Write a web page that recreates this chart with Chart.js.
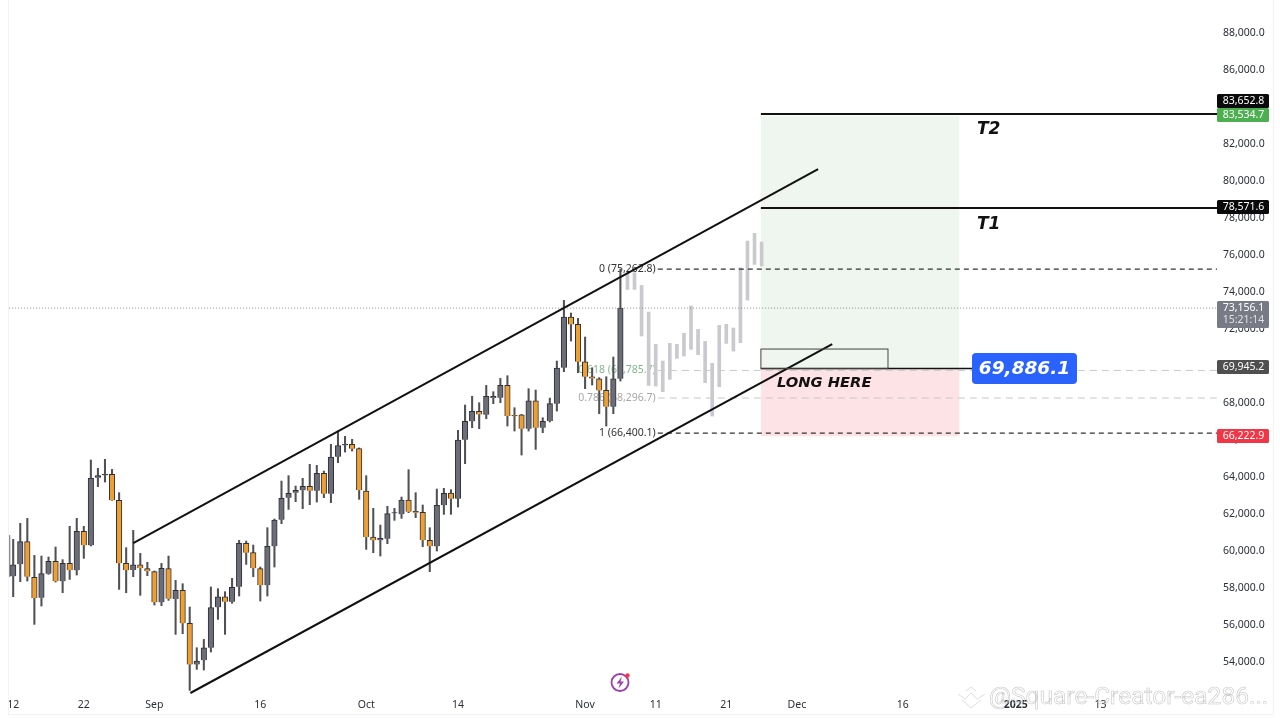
<!DOCTYPE html>
<html>
<head>
<meta charset="utf-8">
<title>BTC long setup</title>
<script src="https://cdn.jsdelivr.net/npm/chart.js@4"></script>
<style>
	html, body { margin: 0; padding: 0; background: #fff; }
	canvas { display: block; }
</style>
</head>
<body>
<canvas id="chart" width="1280" height="718"></canvas>
<script>
// Daily candles, day 0 = 12 Aug, index in the arrays = day
const opens = [58656,59304,60530,58602,57502,58800,59467,58385,59358,58980,61088,60332,63990,64116,64170,62764,59358,58998,59286,59070,58908,57250,59070,57430,57899,56115,53898,54115,54799,56980,57556,57286,58097,60439,59935,59070,58169,60277,61719,62908,63178,63305,63521,63287,64224,63124,65125,65737,65791,65557,63269,60782,60602,60692,62061,62007,62782,62169,62115,60602,60277,62494,63160,62854,66044,67034,67574,67394,68313,68313,68980,67358,67394,66637,68151,66691,67052,67989,69935,72674,72277,70259,69448,69340,68709,67826,69340];
const closes = [59286,60530,58638,57484,58800,59467,58385,59358,58980,61088,60332,63972,64098,64170,62764,59358,58980,59286,59088,58926,57250,59088,57448,57899,56115,53898,54079,54799,56962,57556,57286,58061,60440,59935,59088,58169,60277,61701,62872,63142,63305,63521,63287,64224,63124,65107,65719,65791,65557,63305,60782,60602,60710,62043,62097,62782,62151,62097,60602,60277,62494,63142,62854,66026,67035,67574,67412,68385,68385,68980,67322,67304,66637,68151,66691,67034,67989,69917,72674,72277,70259,69448,69358,68709,67826,69340,73156];
const highs = [60656,61521,61791,59791,59755,59701,60241,59557,61359,61791,61359,64945,64494,64981,64440,63179,60205,61142,59899,59413,58944,59358,59755,58439,58259,56998,54799,55250,58079,57989,57827,58548,60602,60566,60349,59160,61286,61755,63809,64098,63539,63953,64710,64656,64350,65791,66512,66224,66062,65600,64098,62332,61431,62440,62332,62944,64422,63178,62512,61286,63377,63413,63341,66548,67918,68385,68043,68980,68637,69358,69502,67772,67412,68800,68727,67232,68295,70295,73575,72890,72602,71593,69935,69394,69448,70511,75262];
const lows = [57556,58367,58403,56061,57052,58764,58349,57773,58493,58728,59629,60300,63503,63755,62764,57953,57773,58638,57629,58692,57106,57070,57358,55520,55556,52493,53628,53592,54565,56331,55520,57200,57592,59304,58637,57322,57592,59160,61503,62277,62692,62314,62530,62674,62908,62638,64800,65377,65431,62818,60115,59935,59755,60421,61683,61791,62097,61827,60259,58908,60025,62007,62007,62404,64746,66691,66637,67178,67989,68043,66781,66511,65214,66511,65520,66421,67000,67592,69719,71376,69664,68800,68998,67448,66781,67448,69214];

// the cut off candle at the left edge, only its wick is visible
const edgeDay = -0.55;
const edgeHigh = 60870;
const edgeLow = 58640;

// Greyed out candles after the last close, day 87 onwards
const ghostHighs = [75070,75070,74385,72944,71196,70295,71250,71196,71791,73268,72007,71358,70169,72223,72277,72079,75340,76782,77197,76728];
const ghostLows = [74169,74169,71646,68979,68943,68637,69304,70439,70565,70926,70637,69124,67322,68907,71250,70835,71286,73593,75521,75431];

// Axes
const yTickValues = [90000,88000,86000,84000,82000,80000,78000,76000,74000,72000,70000,68000,66000,64000,62000,60000,58000,56000,54000];
const xTickDays = [0,10,20,35,50,63,81,91,101,111,126,142,154];
const xTickLabels = ['12','22','Sep','16','Oct','14','Nov','11','21','Dec','16','2025','13'];

// Drawings, as [day, price]
const upperChannel = [[17,60459],[114,80674]];
const lowerChannel = [[25.1,52351],[116,71215]];

// Position tool and fib levels
const entryPrice = 69886.1;
const stopPrice = 66222.9;
const targetPrice = 83534.7;
const t2Price = 83652.8;
const t1Price = 78571.6;
const lastPrice = 73156.1;
const fibLevels = [75262.8,69785.7,68296.7,66400.1];
const fibLabels = ['0 (75,262.8)','0.618 (69,785.7)','0.786 (68,296.7)','1 (66,400.1)'];
const zoneDays = [105.9,134];
const boxDays = [105.9,123.9];
const boxTop = 70944;
const fibStartDay = 91.3;
const priceAxisDay = 170.5;

const FONT = '"Noto Sans", sans-serif';
const UP = '#6b6e78';
const DOWN = '#ee9f33';
const WICK = '#505055';

function toPoints(pairs) {
	return pairs.map(([x, y]) => ({ x, y }));
}

function hLine(price, fromDay, color, width, dash) {
	return {
		type: 'line',
		data: [{ x: fromDay, y: price }, { x: priceAxisDay, y: price }],
		borderColor: color,
		borderWidth: width,
		borderDash: dash || [],
		pointRadius: 0,
		order: 1,
	};
}

function candleBars(data, thickness, color, order, border) {
	return {
		type: 'bar',
		data,
		grouped: false,
		barThickness: thickness,
		backgroundColor: color,
		borderColor: border || color,
		borderWidth: border ? 1 : 0,
		order,
	};
}

// rects and text that the library has no mark for
const overlayPlugin = {
	id: 'overlay',
	beforeDatasetsDraw(chart) {
		const { ctx, scales: { x, y } } = chart;
		const rect = (d0, d1, p0, p1) => [x.getPixelForValue(d0), y.getPixelForValue(p0), x.getPixelForValue(d1) - x.getPixelForValue(d0), y.getPixelForValue(p1) - y.getPixelForValue(p0)];

		ctx.save();
		ctx.fillStyle = '#eef6ef';
		ctx.fillRect(...rect(zoneDays[0], zoneDays[1], targetPrice, entryPrice));
		ctx.fillStyle = '#fde3e5';
		ctx.fillRect(...rect(zoneDays[0], zoneDays[1], entryPrice, stopPrice));

		ctx.font = '10.5px ' + FONT;
		ctx.textAlign = 'right';
		ctx.textBaseline = 'middle';
		const fibColors = ['#333', '#7fbb8c', '#a8a8a8', '#333'];
		fibLevels.forEach((level, i) => {
			ctx.fillStyle = fibColors[i];
			ctx.fillText(fibLabels[i], x.getPixelForValue(91), y.getPixelForValue(level));
		});
		ctx.restore();
	},
	afterDatasetsDraw(chart) {
		const { ctx, scales: { x, y } } = chart;
		ctx.save();

		// entry box
		const bx = x.getPixelForValue(boxDays[0]);
		const by = y.getPixelForValue(boxTop);
		ctx.strokeStyle = '#444';
		ctx.lineWidth = 1;
		ctx.strokeRect(bx, by, x.getPixelForValue(boxDays[1]) - bx, y.getPixelForValue(entryPrice) - by);

		// drawing labels
		ctx.fillStyle = '#111';
		ctx.textAlign = 'left';
		ctx.textBaseline = 'middle';
		ctx.font = 'italic bold 17px "DejaVu Sans", sans-serif';
		ctx.fillText('T2', 977, 130);
		ctx.fillText('T1', 977, 225);
		ctx.font = 'italic bold 14.7px "DejaVu Sans", sans-serif';
		ctx.fillText('LONG HERE', 777, 383);

		// blue entry callout
		ctx.fillStyle = '#2962ff';
		ctx.beginPath();
		ctx.roundRect(972, 353, 105, 31, 4);
		ctx.fill();
		ctx.fillStyle = '#fff';
		ctx.font = 'italic bold 18.5px "DejaVu Sans", sans-serif';
		ctx.textAlign = 'center';
		ctx.fillText('69,886.1', 1024.5, 369);

		// price tags on the axis
		const tags = [
			{ text: '83,652.8', color: '#0a0a0a', top: 94, h: 14 },
			{ text: '83,534.7', color: '#4caf50', top: 108, h: 14 },
			{ text: '78,571.6', color: '#0a0a0a', top: 200, h: 14 },
			{ text: '69,945.2', color: '#4f4f4f', top: 360, h: 14 },
			{ text: '66,222.9', color: '#f23645', top: 429, h: 14 },
		];
		ctx.font = '10.5px ' + FONT;
		tags.forEach((tag) => {
			ctx.fillStyle = tag.color;
			ctx.beginPath();
			ctx.roundRect(1217, tag.top, 52, tag.h, 1.5);
			ctx.fill();
			ctx.fillStyle = '#fff';
			ctx.fillText(tag.text, 1243.5, tag.top + tag.h / 2 + 0.5);
		});
		ctx.fillStyle = '#787b86';
		ctx.beginPath();
		ctx.roundRect(1217, 301, 52, 27, 1.5);
		ctx.fill();
		ctx.fillStyle = '#fff';
		ctx.fillText('73,156.1', 1243.5, 308.5);
		ctx.fillStyle = '#dfe0e4';
		ctx.fillText('15:21:14', 1243.5, 320.5);

		// bolt badge
		ctx.strokeStyle = '#9c3fb0';
		ctx.lineWidth = 1.8;
		ctx.beginPath();
		ctx.arc(620, 682.5, 8.5, 0, Math.PI * 2);
		ctx.stroke();
		ctx.fillStyle = '#9c3fb0';
		ctx.beginPath();
		ctx.moveTo(622, 676.5);
		ctx.lineTo(616.5, 683.5);
		ctx.lineTo(620, 683.5);
		ctx.lineTo(618.5, 688.5);
		ctx.lineTo(624, 681.5);
		ctx.lineTo(620.5, 681.5);
		ctx.closePath();
		ctx.fill();
		ctx.fillStyle = '#f23645';
		ctx.beginPath();
		ctx.arc(627.5, 675.5, 2.2, 0, Math.PI * 2);
		ctx.fill();

		// watermark
		ctx.strokeStyle = '#c8c8c8';
		ctx.lineWidth = 0.6;
		ctx.font = '24.5px Roboto, sans-serif';
		ctx.textAlign = 'left';
		ctx.strokeText('@Square-Creator-ea286...', 989, 698);
		ctx.beginPath();
		ctx.moveTo(958, 694); ctx.lineTo(965, 699); ctx.lineTo(971, 693); ctx.lineTo(977, 699); ctx.lineTo(985, 694);
		ctx.moveTo(962, 700); ctx.lineTo(971, 708); ctx.lineTo(981, 700);
		ctx.moveTo(966, 691); ctx.lineTo(971, 687); ctx.lineTo(976, 691);
		ctx.stroke();

		// frame
		ctx.strokeStyle = '#f3f3f5';
		ctx.lineWidth = 1;
		ctx.beginPath();
		ctx.moveTo(8.5, 0); ctx.lineTo(8.5, 714);
		ctx.moveTo(1273.5, 0); ctx.lineTo(1273.5, 714);
		ctx.moveTo(8, 714.5); ctx.lineTo(1273, 714.5);
		ctx.stroke();
		ctx.restore();
	},
};

const candleDays = opens.map((_, i) => i);
const ghostDays = ghostHighs.map((_, i) => i + opens.length);

new Chart(document.getElementById('chart'), {
	data: {
		datasets: [
			{
				type: 'line',
				data: toPoints(upperChannel),
				borderColor: '#111',
				borderWidth: 2,
				pointRadius: 0,
				order: 0,
			},
			{
				type: 'line',
				data: toPoints(lowerChannel),
				borderColor: '#111',
				borderWidth: 2,
				pointRadius: 0,
				order: 0,
			},
			hLine(t2Price, zoneDays[0], '#111', 2),
			hLine(t1Price, zoneDays[0], '#111', 2),
			{
				type: 'line',
				data: [{ x: zoneDays[0], y: entryPrice }, { x: 136, y: entryPrice }],
				borderColor: '#111',
				borderWidth: 1.5,
				pointRadius: 0,
				order: 1,
			},
			hLine(lastPrice, -1, '#8a8d96', 1, [1, 2]),
			hLine(fibLevels[0], fibStartDay, '#333', 1.2, [5, 4]),
			hLine(fibLevels[1], fibStartDay, '#c4cdc6', 1, [7, 5]),
			hLine(fibLevels[2], fibStartDay, '#c8c8c8', 1, [7, 5]),
			hLine(fibLevels[3], fibStartDay, '#333', 1.2, [5, 4]),
			candleBars(candleDays.map((d, i) => ({ x: d, y: [opens[i], closes[i]] })), 5.5, opens.map((o, i) => (closes[i] >= o ? UP : DOWN)), 3, '#303034'),
			candleBars(candleDays.map((d, i) => ({ x: d, y: [lows[i], highs[i]] })), 1.4, WICK, 4),
			candleBars([{ x: edgeDay, y: [edgeLow, edgeHigh] }], 1.4, '#8d8d92', 4),
			candleBars(ghostDays.map((d, i) => ({ x: d, y: [ghostLows[i], ghostHighs[i]] })), 3, '#c9c9ce', 5),
		],
	},
	plugins: [overlayPlugin],
	options: {
		responsive: false,
		devicePixelRatio: 1,
		animation: false,
		events: [],
		layout: { padding: { left: 8, top: 0, right: 0, bottom: 0 } },
		plugins: { legend: { display: false }, tooltip: { enabled: false } },
		scales: {
			x: {
				type: 'linear',
				offset: false,
				min: -0.7365,
				max: priceAxisDay,
				grid: { display: false, tickLength: 0 },
				border: { display: false },
				afterBuildTicks: (scale) => { scale.ticks = xTickDays.map((value) => ({ value })); },
				afterFit: (scale) => { scale.height = 23; scale.paddingLeft = 0; scale.paddingRight = 0; },
				ticks: {
					autoSkip: false,
					maxRotation: 0,
					padding: 4,
					color: '#2a2e39',
					font: (ctx) => ({ family: FONT, size: 10.5, weight: xTickLabels[ctx.index] === '2025' ? 'bold' : 'normal' }),
					callback: (value, index) => xTickLabels[index],
				},
			},
			y: {
				type: 'linear',
				position: 'right',
				min: 52243,
				max: 89811,
				grid: { display: false, tickLength: 0 },
				border: { display: false },
				afterBuildTicks: (scale) => { scale.ticks = yTickValues.map((value) => ({ value })); },
				afterFit: (scale) => { scale.width = 63; scale.paddingTop = 0; scale.paddingBottom = 0; },
				ticks: {
					autoSkip: false,
					padding: 6,
					color: '#2a2e39',
					font: { family: FONT, size: 10.5 },
					callback: (value) => value.toLocaleString('en-US', { minimumFractionDigits: 1 }),
				},
			},
		},
	},
});
</script>
</body>
</html>
